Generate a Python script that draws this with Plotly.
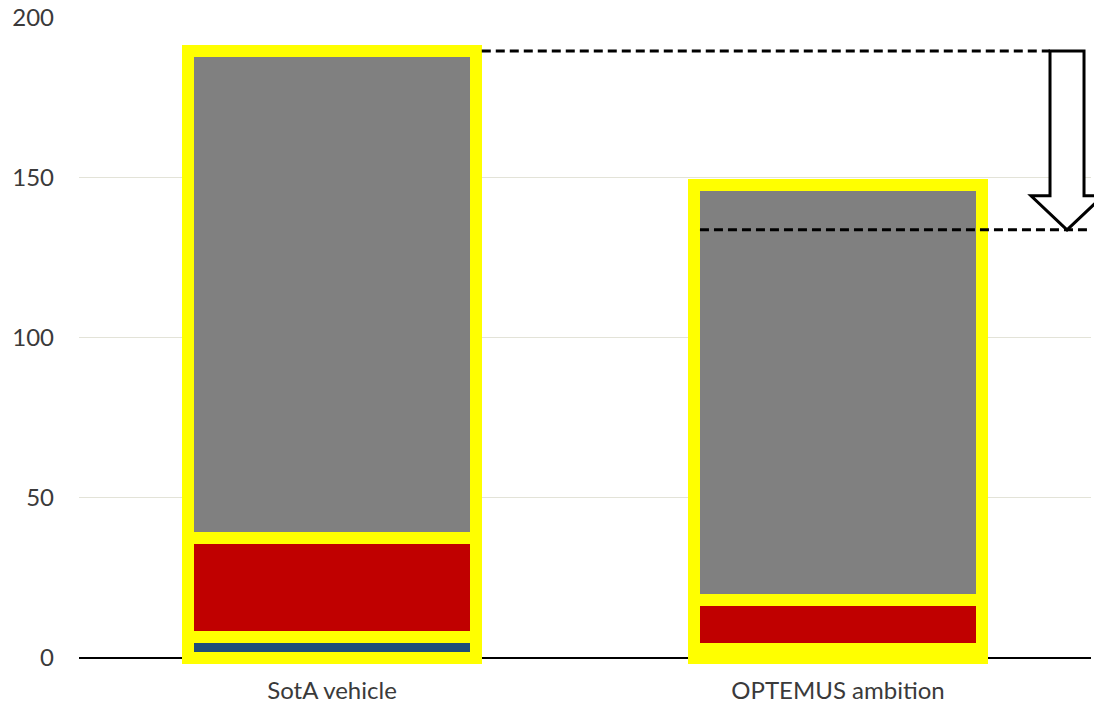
import plotly.graph_objects as go

# Energy breakdown per vehicle concept (stacked segments, bottom to top)
categories = ["SotA vehicle", "OPTEMUS ambition"]
blue_part = [6.6, 2.8]
red_part = [30.7, 15.3]
gray_part = [152.4, 129.7]
target_level = 133.75
y_ticks = [0, 50, 100, 150, 200]

sota_total = blue_part[0] + red_part[0] + gray_part[0]

fig = go.Figure()
for vals, color in [(blue_part, "#1F4E79"), (red_part, "#C00000"), (gray_part, "#808080")]:
    fig.add_trace(go.Bar(
        x=categories, y=vals,
        marker=dict(color=color, line=dict(color="#FFFF00", width=12)),
        showlegend=False, hoverinfo="skip",
    ))

# Dashed reference lines: current level and ambition level
dash_style = dict(color="black", width=3, dash="9px,5px")
fig.add_shape(type="line", xref="paper", yref="y",
              x0=0.398, x1=0.9595, y0=sota_total, y1=sota_total, line=dash_style)
fig.add_shape(type="line", xref="paper", yref="y",
              x0=0.6136, x1=0.996, y0=target_level, y1=target_level, line=dash_style)

# Hollow downward block arrow between the two levels
xl, xr, hl, hr, tip = 0.9595, 0.9931, 0.9407, 1.0119, 0.9763
head_base = 144.4
arrow_path = (f"M {xl},{sota_total} L {xl},{head_base} L {hl},{head_base} "
              f"L {tip},{target_level} L {hr},{head_base} L {xr},{head_base} "
              f"L {xr},{sota_total} Z")
fig.add_shape(type="path", xref="paper", yref="y", path=arrow_path,
              fillcolor="white", line=dict(color="black", width=3))

font = dict(family="Lato, 'Open Sans', sans-serif", size=24, color="#3A3A3A")
fig.update_layout(
    width=1094, height=705,
    margin=dict(l=79, r=3, t=18, b=40.6),
    barmode="stack", bargap=0.43,
    plot_bgcolor="white", paper_bgcolor="white",
    font=font,
    xaxis=dict(showgrid=False, showline=False, zeroline=False, automargin=False,
               ticks="", ticklabelstandoff=10, tickfont=font),
    yaxis=dict(range=[-2, 200], tickvals=y_ticks, showgrid=True, automargin=False,
               gridcolor="#E3E3D8", gridwidth=1, zeroline=True,
               zerolinecolor="black", zerolinewidth=2, showline=False,
               ticks="", ticklabelstandoff=24, tickfont=font),
)

fig.write_html("out.html")
